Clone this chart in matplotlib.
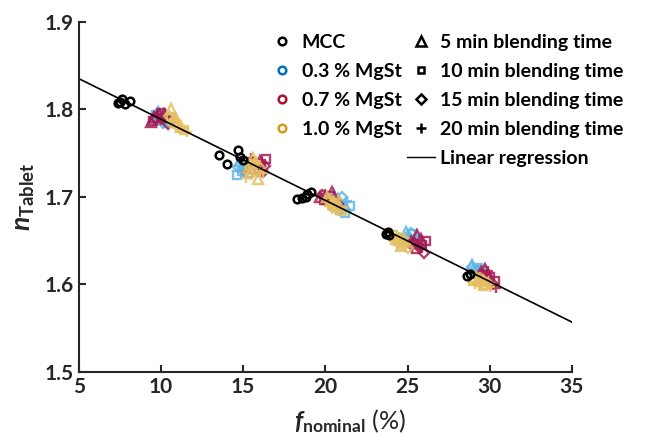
import matplotlib
matplotlib.use("Agg")
import matplotlib.pyplot as plt
from matplotlib.lines import Line2D

plt.rcParams['font.family'] = ['Lato', 'DejaVu Sans']
plt.rcParams['font.weight'] = 'bold'
plt.rcParams['mathtext.fontset'] = 'custom'
plt.rcParams['mathtext.rm'] = 'Lato:bold'
plt.rcParams['mathtext.it'] = 'Lato:bold:italic'

# MCC reference tablets (no MgSt)
mcc_x = [7.4, 7.6, 7.8, 8.1, 7.5, 13.5, 14.0, 14.7, 14.8, 15.0,
         18.3, 18.6, 18.9, 19.1, 18.8, 23.7, 23.9, 23.8, 28.6, 28.8]
mcc_y = [1.807, 1.812, 1.806, 1.810, 1.808, 1.748, 1.738, 1.753, 1.746, 1.742,
         1.697, 1.699, 1.703, 1.705, 1.700, 1.658, 1.656, 1.660, 1.610, 1.612]

# (MgSt level, blending time) -> porosity / refractive index readings
data = {
    ('0.3', 5): ([9.8, 10.3, 9.6, 15.0, 15.4, 14.8, 20.8, 21.2, 20.5, 25.1, 25.4, 24.9, 29.0, 29.3, 28.9],
                 [1.797, 1.792, 1.789, 1.738, 1.733, 1.741, 1.697, 1.690, 1.701, 1.655, 1.650, 1.660, 1.618, 1.614, 1.622]),
    ('0.3', 10): ([10.0, 10.5, 9.7, 14.6, 14.9, 15.3, 20.9, 21.5, 21.2, 25.3, 25.0, 24.7, 29.1, 29.5, 29.3],
                  [1.788, 1.786, 1.793, 1.725, 1.730, 1.727, 1.685, 1.690, 1.682, 1.657, 1.648, 1.653, 1.612, 1.616, 1.619]),
    ('0.3', 15): ([9.9, 10.4, 10.1, 15.2, 15.6, 14.7, 20.6, 21.0, 20.7, 24.9, 25.5, 25.2, 28.9, 29.4, 29.2],
                  [1.795, 1.790, 1.784, 1.735, 1.740, 1.734, 1.693, 1.700, 1.688, 1.652, 1.646, 1.659, 1.620, 1.611, 1.615]),
    ('0.3', 20): ([10.1, 10.6, 9.9, 15.1, 15.3, 14.9, 20.7, 21.3, 20.9, 25.2, 25.6, 24.8, 29.2, 29.6, 29.0],
                  [1.793, 1.787, 1.797, 1.731, 1.737, 1.728, 1.688, 1.695, 1.692, 1.653, 1.655, 1.649, 1.615, 1.610, 1.613]),
    ('0.7', 5): ([9.6, 10.2, 9.4, 15.3, 16.0, 15.7, 19.7, 20.4, 20.1, 25.4, 25.8, 25.6, 29.5, 29.9, 29.7],
                 [1.791, 1.795, 1.786, 1.733, 1.741, 1.738, 1.700, 1.705, 1.698, 1.648, 1.652, 1.656, 1.614, 1.612, 1.618]),
    ('0.7', 10): ([9.5, 10.0, 10.2, 15.8, 16.4, 16.1, 19.9, 20.6, 20.3, 25.9, 25.5, 26.1, 30.3, 30.0, 29.6],
                  [1.787, 1.796, 1.790, 1.738, 1.743, 1.737, 1.696, 1.690, 1.701, 1.645, 1.640, 1.649, 1.604, 1.608, 1.611]),
    ('0.7', 15): ([9.7, 10.4, 9.9, 16.2, 16.3, 15.9, 20.2, 20.8, 19.8, 26.0, 25.7, 25.3, 29.8, 30.2, 29.4],
                  [1.790, 1.783, 1.793, 1.728, 1.735, 1.730, 1.697, 1.692, 1.702, 1.636, 1.643, 1.645, 1.610, 1.600, 1.607]),
    ('0.7', 20): ([9.8, 10.3, 10.0, 15.5, 16.1, 15.6, 20.0, 20.5, 20.2, 25.6, 25.9, 25.2, 29.7, 30.4, 29.9],
                  [1.794, 1.791, 1.788, 1.744, 1.732, 1.739, 1.703, 1.694, 1.691, 1.646, 1.642, 1.651, 1.606, 1.596, 1.615]),
    ('1.0', 5): ([10.6, 11.2, 10.9, 15.6, 15.9, 15.3, 20.1, 20.9, 20.5, 24.3, 24.8, 24.6, 29.3, 29.8, 29.1],
                 [1.800, 1.780, 1.789, 1.744, 1.720, 1.733, 1.700, 1.688, 1.694, 1.652, 1.648, 1.644, 1.606, 1.600, 1.609]),
    ('1.0', 10): ([10.8, 11.4, 10.6, 15.4, 15.8, 15.6, 20.3, 21.0, 20.6, 24.1, 24.6, 24.4, 29.0, 29.6, 29.4],
                  [1.784, 1.776, 1.791, 1.735, 1.729, 1.738, 1.694, 1.684, 1.690, 1.656, 1.645, 1.650, 1.604, 1.598, 1.603]),
    ('1.0', 15): ([10.5, 11.0, 10.7, 15.7, 16.0, 15.5, 20.4, 20.7, 20.2, 24.4, 25.0, 24.7, 29.4, 29.9, 29.6],
                  [1.792, 1.781, 1.786, 1.739, 1.733, 1.726, 1.692, 1.686, 1.697, 1.650, 1.642, 1.653, 1.607, 1.602, 1.605]),
    ('1.0', 20): ([10.9, 11.6, 11.3, 15.2, 16.2, 15.8, 20.2, 20.8, 20.4, 24.5, 24.9, 24.2, 29.1, 30.0, 29.5],
                  [1.788, 1.774, 1.779, 1.722, 1.727, 1.741, 1.689, 1.697, 1.686, 1.654, 1.646, 1.649, 1.601, 1.597, 1.600]),
}

fit_x = [5, 35]
fit_y = [1.835, 1.557]

mgst_levels = ['0.3', '0.7', '1.0']
point_colors = {'0.3': '#62b6e6', '0.7': '#a51d55', '1.0': '#e5c064'}
legend_colors = {'0.3': '#0072bd', '0.7': '#a2142f', '1.0': '#d49a1a'}
blend_times = [5, 10, 15, 20]
blend_markers = {5: '^', 10: 's', 15: 'D', 20: '+'}
blend_sizes = {5: 7, 10: 5.5, 15: 5.5, 20: 7}

fig = plt.figure(figsize=(6.52, 4.36), dpi=100)
ax = fig.add_axes([0.121, 0.147, 0.756, 0.803])

for lvl in mgst_levels:
    for t in blend_times:
        xs, ys = data[(lvl, t)]
        ax.plot(xs, ys, linestyle='none', marker=blend_markers[t],
                markersize=blend_sizes[t], markerfacecolor='none',
                markeredgecolor=point_colors[lvl], markeredgewidth=1.7, alpha=0.85)

ax.plot(mcc_x, mcc_y, linestyle='none', marker='o', markersize=5.5,
        markerfacecolor='none', markeredgecolor='black', markeredgewidth=1.8)
ax.plot(fit_x, fit_y, color='black', linewidth=1.2)

ax.set_xlim(5, 35)
ax.set_ylim(1.5, 1.9)
ax.set_xticks([5, 10, 15, 20, 25, 30, 35])
ax.set_yticks([1.5, 1.6, 1.7, 1.8, 1.9])
ax.set_yticklabels(['1.5', '1.6', '1.7', '1.8', '1.9'])
ax.tick_params(direction='in', length=5, width=1.5, labelsize=15, colors='#262626', pad=4)
for s in ['top', 'right']:
    ax.spines[s].set_visible(False)
for s in ['left', 'bottom']:
    ax.spines[s].set_linewidth(1.5)
    ax.spines[s].set_color('#262626')

ax.set_ylabel(r'$\mathit{n}_{\mathrm{Tablet}}$', fontsize=19, color='#262626')
ax.yaxis.set_label_coords(-0.085, 0.5)
ax.set_xlabel(r'$\mathit{f}_{\mathrm{nominal}}$ (%)', fontsize=18, color='#262626')
ax.xaxis.set_label_coords(0.55, -0.1)

handles = [Line2D([], [], linestyle='none', marker='o', markersize=5.5, markerfacecolor='none',
                  markeredgecolor='black', markeredgewidth=1.8, label='MCC')]
for lvl in mgst_levels:
    handles.append(Line2D([], [], linestyle='none', marker='o', markersize=5.5, markerfacecolor='none',
                          markeredgecolor=legend_colors[lvl], markeredgewidth=1.8,
                          label=lvl + ' % MgSt'))
handles.append(Line2D([], [], linestyle='none', label=' '))
for t in blend_times:
    handles.append(Line2D([], [], linestyle='none', marker=blend_markers[t],
                          markersize=blend_sizes[t] - 0.5, markerfacecolor='none',
                          markeredgecolor='black', markeredgewidth=1.8,
                          label=str(t) + ' min blending time'))
handles.append(Line2D([], [], color='black', linewidth=1.0, label='Linear regression'))

fig.legend(handles=handles, ncol=2, frameon=False, fontsize=14,
           loc='upper left', bbox_to_anchor=(0.40, 0.94),
           handlelength=1.4, handletextpad=0.3, columnspacing=0.3,
           labelspacing=0.62, borderaxespad=0)

fig.savefig('out.png', dpi=100)
